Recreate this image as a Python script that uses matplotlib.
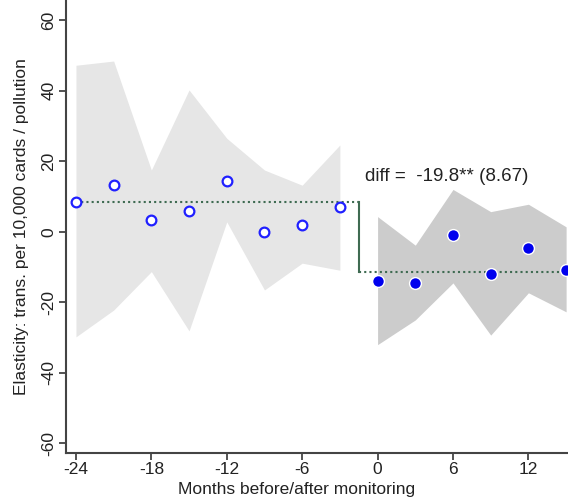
import matplotlib
matplotlib.use("Agg")
import matplotlib.pyplot as plt
import numpy as np

plt.rcParams['font.family'] = ['Liberation Sans', 'DejaVu Sans']

pre_months = [-24, -21, -18, -15, -12, -9, -6, -3]
pre_est = [8.5, 13.2, 3.3, 6.0, 14.4, 0.0, 1.9, 6.9]
pre_hi = [47.2, 48.4, 17.5, 40.2, 26.5, 17.5, 13.2, 24.6]
pre_lo = [-29.8, -22.2, -11.3, -28.1, 2.8, -16.5, -8.9, -10.9]

post_months = [0, 3, 6, 9, 12, 15]
post_est = [-13.9, -14.4, -0.9, -12.1, -4.7, -10.7]
post_hi = [4.3, -3.8, 12.0, 5.7, 7.8, 1.4]
post_lo = [-32.0, -25.0, -14.5, -29.3, -17.3, -22.7]

pre_mean = 8.5
post_mean = -11.3
break_x = -1.5
diff_text = "diff =  -19.8** (8.67)"

xticks = [-24, -18, -12, -6, 0, 6, 12]
yticks = [-60, -40, -20, 0, 20, 40, 60]

fig = plt.figure(figsize=(5.68, 5.04), dpi=100)
ax = fig.add_axes([0.116, 0.102, 0.884, 0.898])

ax.fill_between(pre_months, pre_lo, pre_hi, color='#e6e6e6', lw=0, zorder=1)
ax.fill_between(post_months, post_lo, post_hi, color='#cccccc', lw=0, zorder=1)

lc = '#3f6b52'
ax.plot([pre_months[0], break_x], [pre_mean, pre_mean], color=lc, ls=(0, (1, 1.5)), lw=1.5, zorder=2)
ax.plot([break_x, break_x], [pre_mean, post_mean], color=lc, ls='-', lw=1.5, zorder=2)
ax.plot([break_x, 16], [post_mean, post_mean], color=lc, ls=(0, (1, 1.5)), lw=1.5, zorder=2)

ax.plot(pre_months, pre_est, ls='none', marker='o', ms=7, mfc='white', mec='#2020ff', mew=1.6, zorder=3)
ax.plot(post_months, post_est, ls='none', marker='o', ms=8.5, mfc='#0000ee', mec='white', mew=1.0, zorder=3, clip_on=True)

ax.text(-1.0, 15.8, diff_text, fontsize=13.5, va='center', ha='left', color='#222222')

ax.set_xlim(-24.8, 15.15)
ax.set_ylim(-62.6, 65.7)
ax.set_xticks(xticks)
ax.set_yticks(yticks)
ax.set_xticklabels([str(t) for t in xticks], fontsize=12.5)
ax.set_yticklabels([str(t) for t in yticks], fontsize=12.5, rotation=90, va='center')

for s in ['top', 'right']:
    ax.spines[s].set_visible(False)
for s in ['left', 'bottom']:
    ax.spines[s].set_color('#444444')
    ax.spines[s].set_linewidth(1.5)
ax.tick_params(axis='both', direction='out', length=5, width=1.3, color='#444444', labelcolor='#222222', pad=2)

ax.set_xlabel("Months before/after monitoring", fontsize=12.5, color='#222222')
ax.set_ylabel("Elasticity: trans. per 10,000 cards / pollution", fontsize=12.5, color='#222222')
ax.xaxis.set_label_coords(0.46, -0.066)
ax.yaxis.set_label_coords(-0.074, 0.5)

fig.savefig("out.png", dpi=100)
